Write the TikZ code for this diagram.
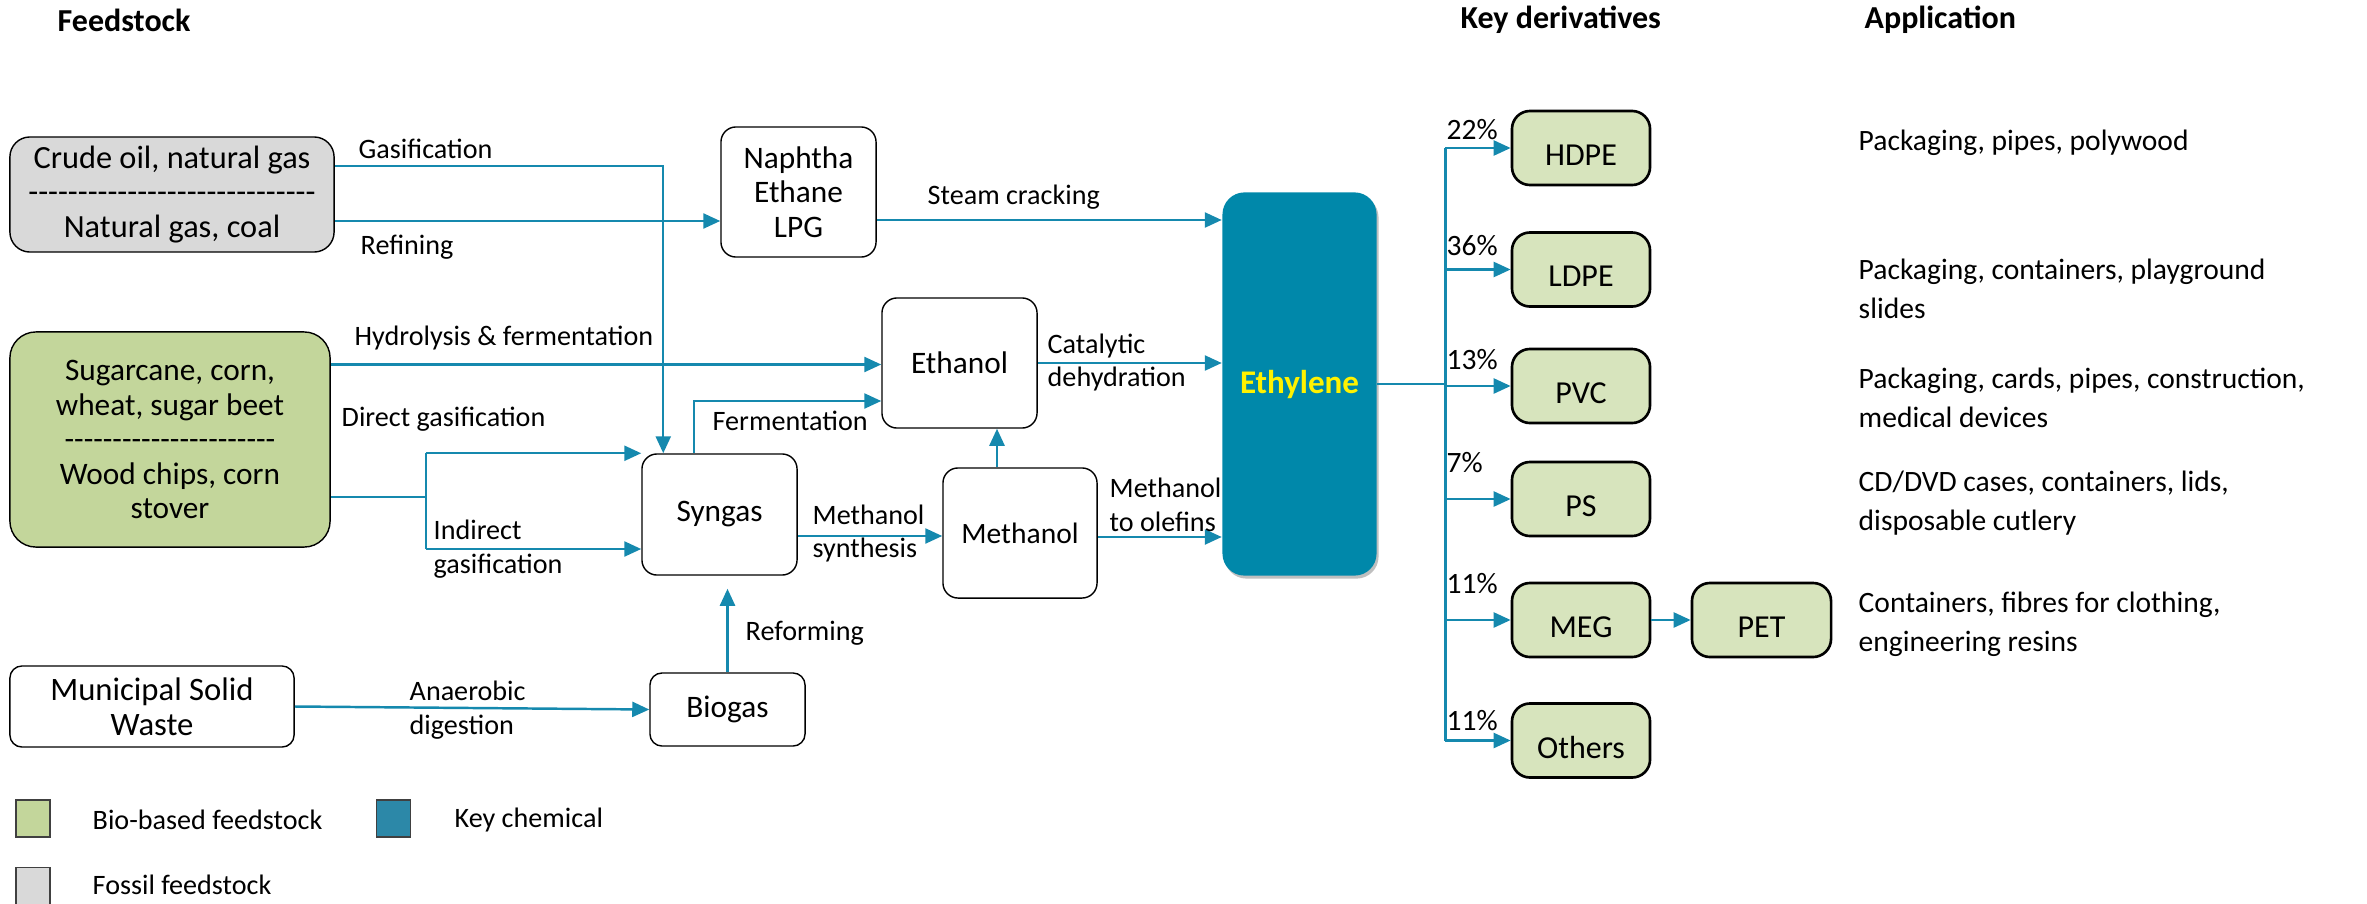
\documentclass[tikz,border=0pt]{standalone}
\usepackage{fontspec}
\setmainfont{Carlito}
\usetikzlibrary{arrows.meta,calc,shadows}
\definecolor{flow}{HTML}{1589AE}
\definecolor{eth}{HTML}{0088AA}
\definecolor{fos}{HTML}{D9D9D9}
\definecolor{bio}{HTML}{C3D69B}
\definecolor{der}{HTML}{D7E4BD}
\definecolor{keyc}{HTML}{2C88A8}
\newcommand\hyrun[1]{\foreach \k in {1,...,#1}{-\kern0pt}}
\newcommand\lowr[1]{\raisebox{-0.07cm}[\height][\depth]{#1}}
\begin{document}
\begin{tikzpicture}[x=0.01cm,y=-0.01cm,
  every node/.style={font=\fontsize{8.9}{9.8}\selectfont, inner sep=0pt},
  hdr/.style={font=\bfseries\fontsize{9.1}{10}\selectfont, anchor=west},
  lbl/.style={font=\fontsize{8}{9.6}\selectfont, anchor=west, align=left},
  pct/.style={font=\fontsize{8.4}{9.6}\selectfont, anchor=west},
  app/.style={font=\fontsize{8.4}{11.1}\selectfont, anchor=west, align=left},
  proc/.style={draw=black, line width=0.4pt, rounded corners=0.15cm, fill=white, align=center},
  deriv/.style={draw=black, line width=0.75pt, rounded corners=0.18cm, fill=der, minimum width=1.38cm, minimum height=0.74cm, font=\fontsize{9.1}{10}\selectfont},
  legbox/.style={draw=black!75, line width=0.4pt, minimum width=0.34cm, minimum height=0.37cm},
  conn/.style={draw=flow, line width=0.7pt},
  arr/.style={draw=flow, line width=0.7pt, -{Triangle[length=0.17cm,width=0.15cm]}}]
\useasboundingbox (0,0) rectangle (2367,903);

% headers
\node[hdr] (hfeed) at (57,20) {Feedstock};
\node[hdr] (hder) at (1460,20) {Key derivatives};
\node[hdr] (happ) at (1864,20) {Application};

% feedstock
\node[proc, fill=fos, rounded corners=0.2cm, minimum width=3.24cm, minimum height=1.15cm,
  font=\fontsize{9.2}{9.8}\selectfont] (crude) at (172,194.5)
  {Crude oil, natural gas\\\hyrun{29}\\Natural gas, coal};
\node[proc, fill=bio, rounded corners=0.26cm, minimum width=3.20cm, minimum height=2.15cm] (green) at (170,439.5)
  {Sugarcane, corn,\\wheat, sugar beet\\\hyrun{22}\\Wood chips, corn\\stover};
\node[proc, rounded corners=0.12cm, minimum width=2.84cm, minimum height=0.81cm,
  font=\fontsize{9.3}{9.9}\selectfont] (msw) at (152,706.5)
  {Municipal Solid\\Waste};

% intermediates
\node[proc, minimum width=1.55cm, minimum height=1.30cm] (naph) at (798.5,192) {Naphtha\\Ethane\\LPG};
\node[proc, minimum width=1.55cm, minimum height=1.30cm] (ethanol) at (959.5,363) {Ethanol};
\node[proc, minimum width=1.55cm, minimum height=1.21cm] (syngas) at (719.5,514.5) {Syngas};
\node[proc, minimum width=1.54cm, minimum height=1.30cm, font=\fontsize{8.4}{9.8}\selectfont] (methanol) at (1020,533) {Methanol};
\node[proc, rounded corners=0.12cm, minimum width=1.55cm, minimum height=0.73cm] (biogas) at (727.5,709.5) {Biogas};

% key chemical
\node[fill=eth, rounded corners=0.22cm, minimum width=1.54cm, minimum height=3.83cm,
  drop shadow={shadow xshift=0.02cm, shadow yshift=-0.03cm, opacity=0.25, fill=black},
  font=\bfseries\fontsize{9.4}{10}\selectfont, text=yellow] (ethylene) at (1299.5,384) {Ethylene};

% derivatives
\node[deriv] (hdpe) at (1581,148) {\lowr{HDPE}};
\node[deriv] (ldpe) at (1581,269.5) {\lowr{LDPE}};
\node[deriv] (pvc) at (1581,386) {\lowr{PVC}};
\node[deriv] (ps) at (1581,499) {\lowr{PS}};
\node[deriv] (meg) at (1581,620) {\lowr{MEG}};
\node[deriv] (others) at (1581,740.5) {\lowr{Others}};
\node[deriv, minimum width=1.39cm] (pet) at (1761.5,620) {\lowr{PET}};

% percentages
\node[pct] (p1) at (1446,130) {22\%};
\node[pct] (p2) at (1446,246) {36\%};
\node[pct] (p3) at (1446,360) {13\%};
\node[pct] (p4) at (1446,463) {7\%};
\node[pct] (p5) at (1446,584) {11\%};
\node[pct] (p6) at (1446,721) {11\%};

% applications
\node[app] (a1) at (1858,143) {Packaging, pipes, polywood};
\node[app] (a2) at (1858,288.5) {Packaging, containers, playground\\slides};
\node[app] (a3) at (1858,397.5) {Packaging, cards, pipes, construction,\\medical devices};
\node[app] (a4) at (1858,503) {CD/DVD cases, containers, lids,\\disposable cutlery};
\node[app] (a5) at (1858,624) {Containers, fibres for clothing,\\engineering resins};

% connectors
\draw[arr] ($(crude.east)+(0,-28.5)$) -| ($(syngas.north west)+(22,0)$);
\coordinate (r0) at ($(crude.east)+(0,26.5)$);
\draw[arr] (r0) -- (r0 -| naph.west);
\coordinate (s0) at ($(naph.east)+(0,28)$);
\draw[arr] (s0) -- (s0 -| ethylene.west);
\coordinate (h0) at ($(green.east)+(0,-75)$);
\draw[arr] (h0) -- (h0 -| ethanol.west);
\coordinate (g0) at ($(green.east)+(0,57.5)$);
\coordinate (g1) at ($(g0)+(95,0)$);
\coordinate (i0) at ($(syngas.west)+(0,34.5)$);
\draw[conn] (g0) -- (g1);
\draw[conn] (g1 |- syngas.north) -- (g1 |- i0);
\draw[arr] (g1 |- syngas.north) -- (syngas.north west);
\draw[arr] (g1 |- i0) -- (i0);
\coordinate (f0) at ($(syngas.north west)+(53,0)$);
\coordinate (f1) at ($(ethanol.west)+(0,38)$);
\draw[arr] (f0) |- (f1);
\coordinate (m0) at ($(syngas.east)+(0,21.5)$);
\draw[arr] (m0) -- (m0 -| methanol.west);
\coordinate (me0) at ($(methanol.north)+(-23,0)$);
\draw[arr] (me0) -- (me0 |- ethanol.south);
\draw[arr] (ethanol.east) -- (ethanol.east -| ethylene.west);
\coordinate (mo0) at ($(methanol.east)+(0,4)$);
\draw[arr] (mo0) -- (mo0 -| ethylene.west);
\draw[arr] (msw.east) -- (biogas.west);
\coordinate (rf) at (biogas.north |- syngas.south);
\draw[arr] (biogas.north) -- ($(rf)+(0,13)$);
\coordinate (tr) at ($(ethylene.east)+(68,0)$);
\draw[conn] (ethylene.east) -- (tr);
\draw[conn] (tr |- hdpe.west) -- (tr |- others.west);
\foreach \n in {hdpe,ldpe,pvc,ps,meg,others} \draw[arr] (tr |- \n.west) -- (\n.west);
\draw[arr] (meg.east) -- (pet.west);

% process labels
\node[lbl] (lgas) at (358,149) {Gasification};
\node[lbl] (lref) at (360,247) {Refining};
\node[lbl] (lhyd) at (354,338) {Hydrolysis \& fermentation};
\node[lbl] (ldir) at (341,419) {Direct gasification};
\node[lbl] (lind) at (433,549) {Indirect\\gasification};
\node[lbl] (lana) at (409,710.5) {Anaerobic\\digestion};
\node[lbl] (lrefo) at (745,633) {Reforming};
\node[lbl] (lste) at (927,197) {Steam cracking};
\node[lbl] (lcat) at (1047,362.5) {Catalytic\\dehydration};
\node[lbl] (lfer) at (712,421) {Fermentation};
\node[lbl] (lmsy) at (812,533.5) {Methanol\\synthesis};
\node[lbl] (lmto) at (1109,504.5) {Methanol\\to olefins};

% legend
\node[legbox, fill=bio] (lg1) at (33,818.5) {};
\node[lbl] (lt1) at (92,820) {Bio-based feedstock};
\node[legbox, fill=keyc] (lg2) at (393.5,818.5) {};
\node[lbl] (lt2) at (454,820) {Key chemical};
\node[legbox, fill=fos] (lg3) at (33,886) {};
\node[lbl] (lt3) at (92,885) {Fossil feedstock};
\end{tikzpicture}
\end{document}
